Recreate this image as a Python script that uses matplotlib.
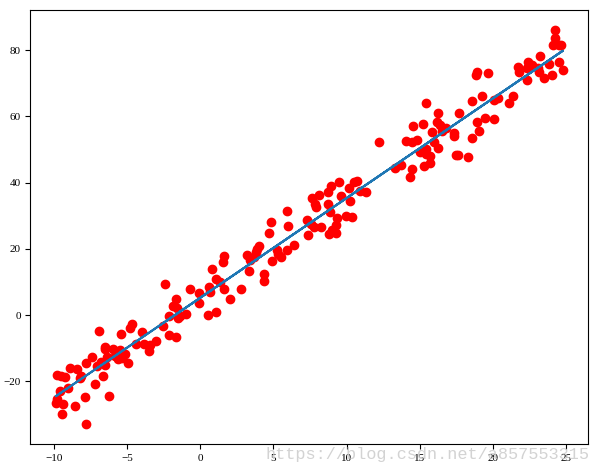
import matplotlib
matplotlib.use('Agg')
import matplotlib.pyplot as plt
import numpy as np

# sample points
x_data = [
    -2.43, -1.63, -1.86, -1.59, -2.13, -1.48, -2.54, -2.16, -1.63, -4.63,
    -4.77, -4.00, -6.92, -5.38, -4.40, -3.86, -3.40, -3.00, -3.47, -6.51,
    -6.51, -5.97, -5.45, -7.35, -6.35, -5.79, -5.63, -5.33, -5.10, -4.90,
    -6.74, -6.51, -7.80, -7.03, -8.85, -8.39, -9.80, -9.53, -9.24, -8.17,
    -8.10, -6.65, -7.20, -9.03, -9.58, -7.87, -6.24, -9.76, -9.85, -9.37,
    -8.56, -9.44, -7.80,
    -1.35, -0.95, -0.68, -0.05, -0.05, 0.57, 0.68, 0.52, 1.09, 1.09,
    1.36, 1.63, 0.84, 1.59, 1.65, 2.04, 2.79, 3.36, 3.18, 3.40,
    3.81, 3.68, 4.02, 3.86, 4.38, 4.38, 4.92, 5.26, 5.33, 5.51,
    4.72, 4.81, 6.01, 5.94, 5.90, 6.40,
    7.30, 7.37, 7.60, 7.83, 7.94, 8.12, 7.56, 7.78, 8.24, 8.73,
    8.92, 8.73, 8.85, 9.48, 9.64, 9.37, 9.26, 9.03, 9.26, 8.78,
    9.94, 10.37, 10.16, 10.48, 10.73, 10.21, 10.89, 11.30, 12.20, 13.27,
    13.73, 14.07, 14.30,
    14.45, 14.45, 14.79, 14.52, 15.20, 15.43, 14.98, 15.38, 15.43, 15.66,
    15.27, 15.70, 15.84, 15.95, 16.22, 16.15, 16.38, 16.52, 16.75, 16.22,
    17.31, 17.31, 17.43, 17.63, 17.70, 18.26, 18.54, 18.54, 18.88, 19.06,
    19.22, 18.84, 18.90, 19.63, 19.42, 20.03, 20.03, 20.31, 21.10,
    21.37, 21.67, 21.78, 22.28, 22.28, 22.35, 22.62, 23.03, 23.14, 23.21,
    23.44, 23.78, 23.98, 24.05, 24.24, 24.19, 24.51, 24.66, 24.51, 24.73,
]
y_data = [
    9.3, 5.0, 2.6, 2.0, -0.4, -0.8, -3.4, -6.0, -6.7, -2.7,
    -4.0, -5.2, -4.9, -5.8, -8.6, -8.6, -9.1, -7.9, -10.7, -9.5,
    -10.3, -10.1, -10.5, -12.5, -12.8, -12.3, -13.3, -13.1, -11.8, -14.5,
    -14.1, -15.0, -14.5, -15.3, -16.1, -16.3, -18.1, -18.4, -18.8, -19.0,
    -18.5, -18.5, -20.7, -22.1, -23.0, -24.8, -24.5, -25.4, -26.6, -26.7,
    -27.5, -29.9, -33.0,
    -0.2, 0.2, 7.9, 6.6, 3.8, 8.4, 7.0, 0.0, 0.8, 10.9,
    10.1, 7.9, 13.9, 15.9, 17.9, 5.0, 7.9, 13.4, 18.1, 16.7,
    18.9, 17.4, 20.9, 19.9, 12.4, 10.2, 16.2, 19.7, 18.4, 17.4,
    24.7, 28.0, 26.8, 31.3, 19.6, 21.1,
    28.8, 24.3, 35.3, 33.5, 32.5, 36.3, 27.5, 26.5, 26.5, 37.1,
    39.1, 33.5, 31.0, 40.1, 35.9, 29.2, 27.2, 25.8, 24.7, 24.5,
    29.8, 29.5, 38.3, 40.1, 40.4, 34.5, 37.4, 37.1, 52.4, 44.3,
    45.3, 52.6, 41.6,
    44.1, 52.4, 53.0, 57.0, 57.7, 64.0, 49.2, 50.2, 48.6, 48.1,
    44.9, 45.9, 55.2, 52.2, 60.9, 58.2, 57.4, 55.7, 56.4, 50.4,
    55.0, 54.0, 48.3, 48.3, 60.9, 47.6, 53.4, 64.7, 58.2, 55.5,
    66.0, 72.6, 73.3, 73.0, 59.4, 59.2, 65.0, 65.5, 64.0,
    66.3, 74.8, 73.3, 71.0, 74.5, 76.3, 75.6, 74.5, 73.3, 78.1,
    71.5, 75.8, 72.5, 81.6, 83.6, 86.2, 81.6, 81.6, 76.3, 74.0,
]

X = np.array(x_data)
Y = np.array(y_data)
slope, intercept = np.polyfit(X, Y, 1)
y_pred = slope * X + intercept

plt.rcParams['font.family'] = ['Liberation Serif', 'DejaVu Serif']

fig = plt.figure(figsize=(5.98, 4.69), dpi=100)
ax = fig.add_axes([0.051, 0.053, 0.932, 0.926])
ax.scatter(X, Y, color='red', s=36, zorder=2)
ax.plot(X, y_pred, color='#1f77b4', linewidth=1.5, zorder=3)
ax.tick_params(labelsize=8)

# watermark in the lower right corner
fig.text(0.985, 0.022, 'https://blog.csdn.net/a857553315', ha='right',
         va='baseline', fontsize=12.2, family='Liberation Mono',
         color='#c8c8c8', alpha=0.8)

fig.savefig('out.png', dpi=100)
